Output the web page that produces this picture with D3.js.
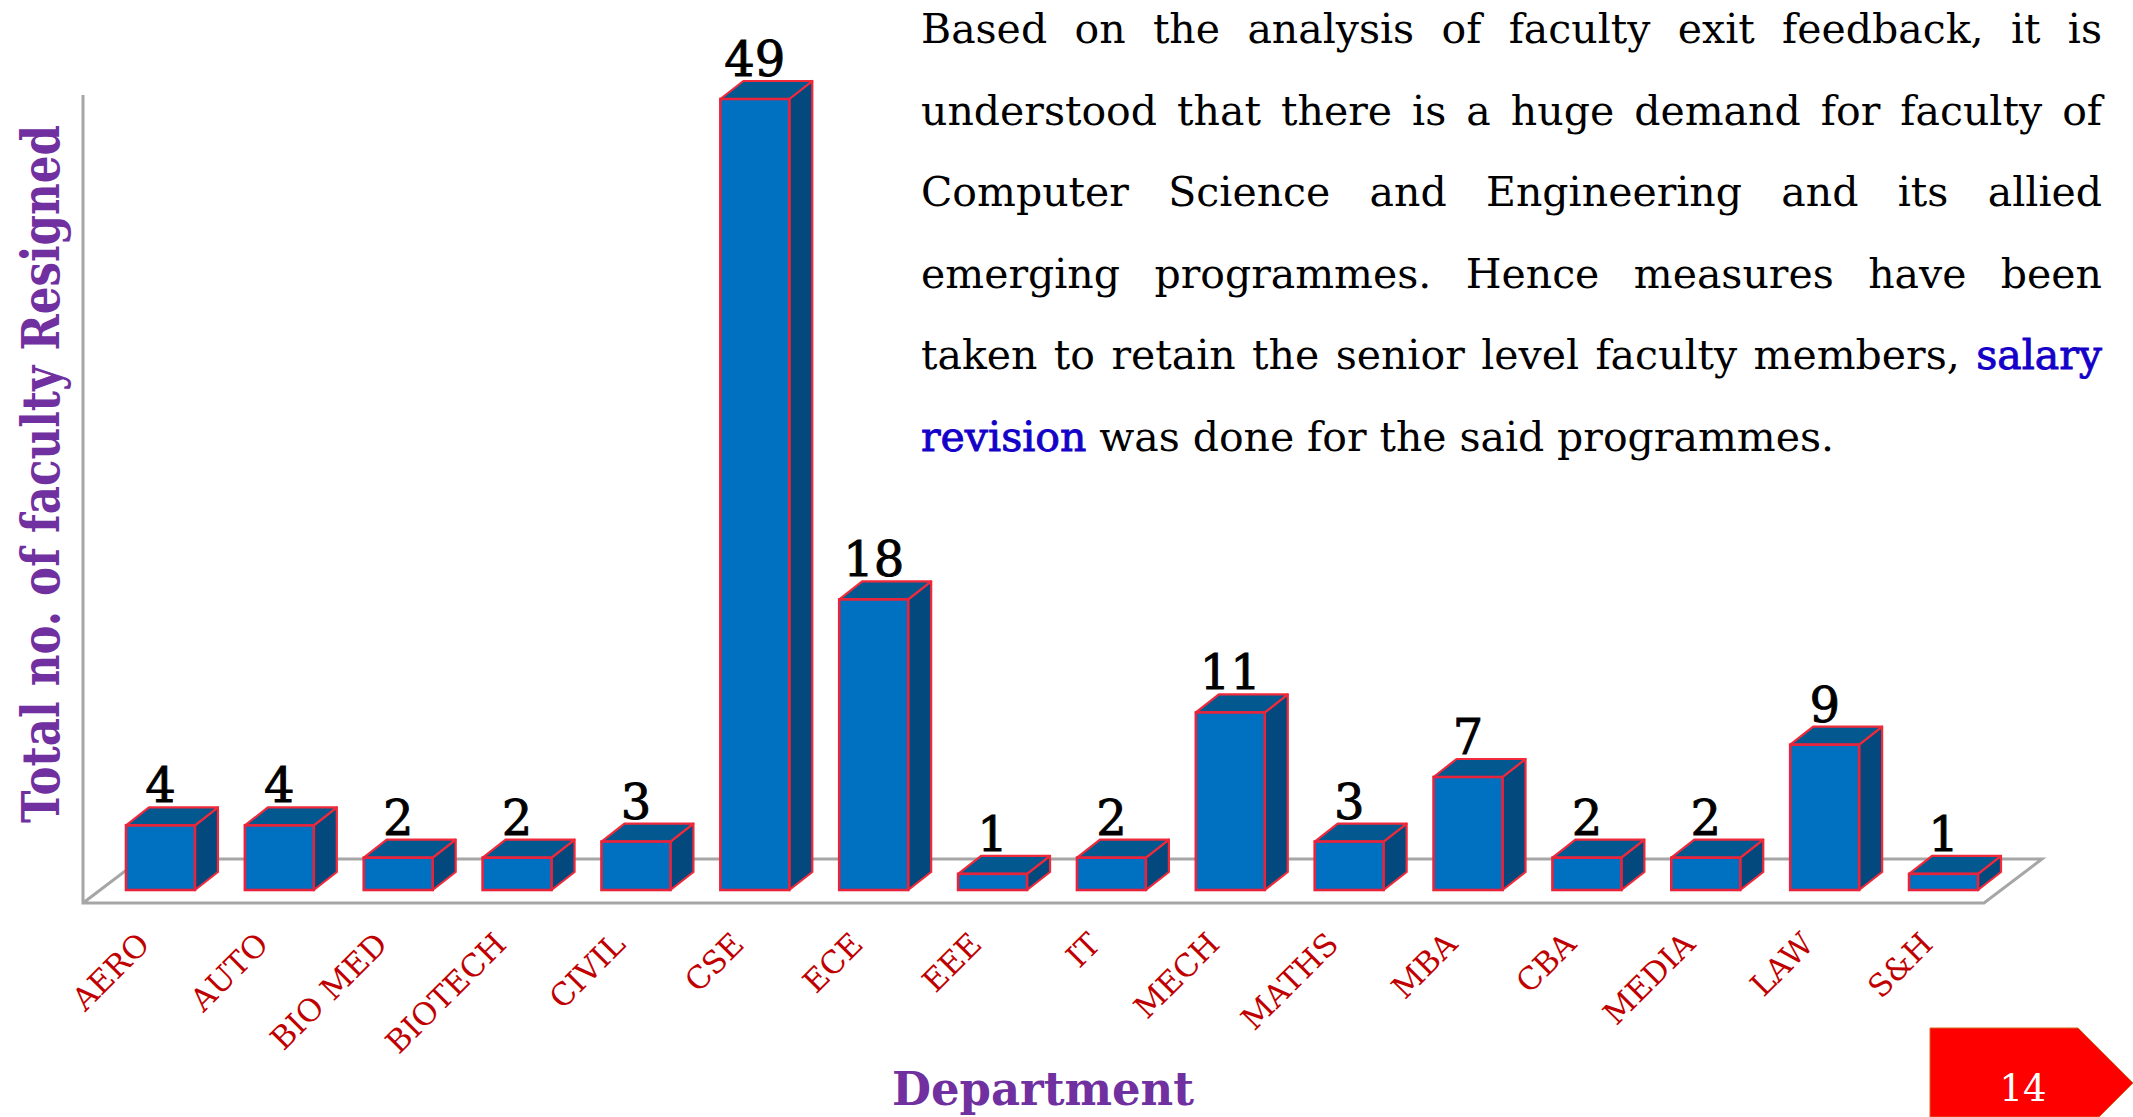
<!DOCTYPE html>
<html>
<head>
<meta charset="utf-8">
<script src="https://cdn.jsdelivr.net/npm/d3@7"></script>
<style>
  html, body { margin: 0; padding: 0; background: #fff; overflow: hidden; }
  text { font-family: "DejaVu Serif", serif; }
</style>
</head>
<body>
<div class="viz"></div>
<script>
const departments = ["AERO", "AUTO", "BIO MED", "BIOTECH", "CIVIL", "CSE", "ECE", "EEE", "IT", "MECH", "MATHS", "MBA", "CBA", "MEDIA", "LAW", "S&H"]
const resigned = [4, 4, 2, 2, 3, 49, 18, 1, 2, 11, 3, 7, 2, 2, 9, 1]
const yTitle = "Total no. of faculty Resigned"
const xTitle = "Department"
const pageNumber = "14"
// each line is a list of [text, colour] runs
const paragraph = [
  [["Based on the analysis of faculty exit feedback, it is", "#000"]],
  [["understood that there is a huge demand for faculty of", "#000"]],
  [["Computer Science and Engineering and its allied", "#000"]],
  [["emerging programmes. Hence measures have been", "#000"]],
  [["taken to retain the senior level faculty members, ", "#000"], ["salary", "#1400C8"]],
  [["revision", "#1400C8"], [" was done for the said programmes.", "#000"]]
]

const w = 2133
const h = 1117
const depthX = 23
const depthY = 18

const svg = d3.select(".viz").append("svg")
  .attr("width", w)
  .attr("height", h)
  .style("display", "block")

const x = d3.scaleBand()
  .domain(departments)
  .range([126, 1978])
  .paddingInner(0.42)
  .paddingOuter(0)

const y = d3.scaleLinear()
  .domain([0, 49])
  .range([890, 99])

// floor and back wall
const floorFront = y(0) + 13
const floorBack = floorFront - 44
const floorLeft = 83
const floorRight = 1984
svg.append("path")
  .attr("d", `M${floorLeft},95 V${floorFront} H${floorRight} L${floorRight + 58},${floorBack} H${floorLeft + 58} L${floorLeft},${floorFront}`)
  .attr("fill", "none")
  .attr("stroke", "#A6A6A6")
  .attr("stroke-width", 3)

const bars = svg.selectAll("g.bar")
  .data(departments.map((d, i) => ({ name: d, value: resigned[i] })))
  .enter()
  .append("g")
  .attr("class", "bar")

// side face
bars.append("path")
  .attr("d", d => {
    const r = x(d.name) + x.bandwidth()
    return `M${r},${y(d.value)} l${depthX},${-depthY} V${y(0) - depthY} L${r},${y(0)} Z`
  })
  .attr("fill", "#03497E")
  .attr("stroke", "#F02A3A")
  .attr("stroke-width", 2.2)
  .attr("stroke-linejoin", "round")

// top face
bars.append("path")
  .attr("d", d => {
    const l = x(d.name)
    return `M${l},${y(d.value)} l${depthX},${-depthY} h${x.bandwidth()} l${-depthX},${depthY} Z`
  })
  .attr("fill", "#02588F")
  .attr("stroke", "#F02A3A")
  .attr("stroke-width", 2.2)
  .attr("stroke-linejoin", "round")

// front face
bars.append("rect")
  .attr("x", d => x(d.name))
  .attr("y", d => y(d.value))
  .attr("width", x.bandwidth())
  .attr("height", d => y(0) - y(d.value))
  .attr("fill", "#0070C0")
  .attr("stroke", "#E8243C")
  .attr("stroke-width", 2.6)

// value labels
bars.append("text")
  .attr("x", d => x(d.name) + x.bandwidth() / 2)
  .attr("y", d => y(d.value) - depthY - 5)
  .attr("text-anchor", "middle")
  .attr("font-size", 48)
  .attr("fill", "#000")
  .attr("stroke", "#000")
  .attr("stroke-width", 0.9)
  .text(d => d.value)

// department labels
svg.selectAll("text.dept")
  .data(departments)
  .enter()
  .append("text")
  .attr("class", "dept")
  .attr("transform", d => `translate(${x(d) + x.bandwidth() / 2 - 9},${y(0) + 56}) rotate(-45)`)
  .attr("text-anchor", "end")
  .attr("font-size", 31)
  .attr("fill", "#C00000")
  .text(d => d)

// axis titles, squeezed to the width they have in the picture
const yLabel = svg.append("text")
  .attr("text-anchor", "middle")
  .attr("font-size", 52)
  .attr("font-weight", "bold")
  .attr("fill", "#7030A0")
  .text(yTitle)
yLabel.attr("transform", `translate(59,474) rotate(-90) scale(${698 / yLabel.node().getComputedTextLength()},1)`)

const xLabel = svg.append("text")
  .attr("text-anchor", "middle")
  .attr("font-size", 46)
  .attr("font-weight", "bold")
  .attr("fill", "#7030A0")
  .text(xTitle)
xLabel.attr("transform", `translate(1043,1105) scale(${302 / xLabel.node().getComputedTextLength()},1)`)

// paragraph, justified by word spacing except the last line
const textLeft = 921
const textRight = 2102
const lineY = d3.scaleLinear().domain([0, 5]).range([43, 451])
const lines = svg.selectAll("text.line")
  .data(paragraph)
  .enter()
  .append("text")
  .attr("class", "line")
  .attr("x", textLeft)
  .attr("y", (d, i) => lineY(i))
  .attr("font-size", 41)
  .attr("xml:space", "preserve")
  .style("white-space", "pre")

lines.selectAll("tspan")
  .data(d => d)
  .enter()
  .append("tspan")
  .attr("fill", d => d[1])
  .attr("stroke", d => d[1] === "#000" ? "none" : d[1])
  .attr("stroke-width", 0.9)
  .text(d => d[0])

lines.each(function (d, i) {
  const len = this.getComputedTextLength()
  const full = d.map(r => r[0]).join("")
  const gaps = full.split(" ").length - 1
  const target = i === paragraph.length - 1 ? 913 : textRight - textLeft
  d3.select(this).attr("word-spacing", (target - len) / gaps)
})

// page number tag
svg.append("path")
  .attr("d", "M1930,1028 H2078 L2133,1083 L2099,1117 H1930 Z")
  .attr("fill", "#FF0000")
  .attr("stroke", "#D2691E")
  .attr("stroke-width", 1)

svg.append("text")
  .attr("x", 2023)
  .attr("y", 1101)
  .attr("text-anchor", "middle")
  .attr("font-size", 37)
  .attr("fill", "#fff")
  .text(pageNumber)
</script>
</body>
</html>
